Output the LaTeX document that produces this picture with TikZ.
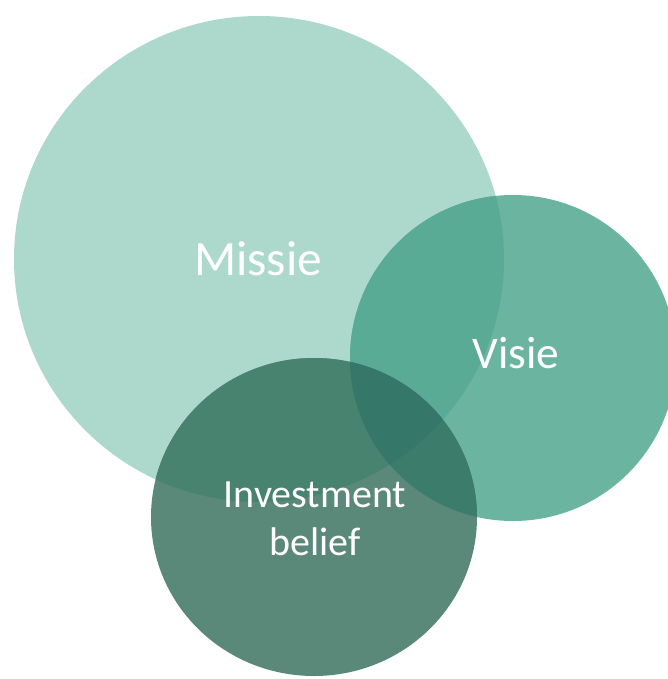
\documentclass[tikz,border=0pt]{standalone}
\usepackage{fontspec}
\setmainfont{Carlito}
\definecolor{cOne}{HTML}{ADD9CD}
\definecolor{cTwo}{HTML}{6BB49F}
\definecolor{cOneTwo}{HTML}{5AAB95}
\definecolor{cThree}{HTML}{5A897A}
\definecolor{cOneThree}{HTML}{48836F}
\definecolor{cTwoThree}{HTML}{3B7C6B}
\definecolor{cAll}{HTML}{35786A}
\tikzset{lbl/.style={text=white, anchor=base, inner sep=0pt}}
\newcommand{\pathOne}{(259,259) ellipse [x radius=183.75pt, y radius=182.25pt]}
\newcommand{\pathTwo}{(513,358) ellipse [x radius=122.25pt, y radius=122.25pt]}
\newcommand{\pathThree}{(314,517) ellipse [x radius=122.25pt, y radius=119.25pt]}
\begin{document}
\begin{tikzpicture}[x=0.75pt,y=-0.75pt]
\useasboundingbox (0,0) rectangle (668,679);
\clip (0,0) rectangle (668,679);
\fill[white] (0,0) rectangle (668,679);
\fill[cOne] \pathOne;
\fill[cTwo] \pathTwo;
\begin{scope}
  \clip \pathOne;
  \fill[cOneTwo] \pathTwo;
\end{scope}
\fill[cThree] \pathThree;
\begin{scope}
  \clip \pathThree;
  \fill[cOneThree] \pathOne;
  \fill[cTwoThree] \pathTwo;
  \clip \pathOne;
  \fill[cAll] \pathTwo;
\end{scope}
\node[lbl, font=\fontsize{37}{44}\selectfont] (missie) at (258,275) {Missie};
\node[lbl, font=\fontsize{34}{40}\selectfont] (visie) at (516,368) {Visie};
\node[lbl, font=\fontsize{30}{36}\selectfont] (invest) at (315,507) {Investment};
\node[lbl, font=\fontsize{30}{36}\selectfont] (belief) at (315,555) {belief};
\end{tikzpicture}
\end{document}
